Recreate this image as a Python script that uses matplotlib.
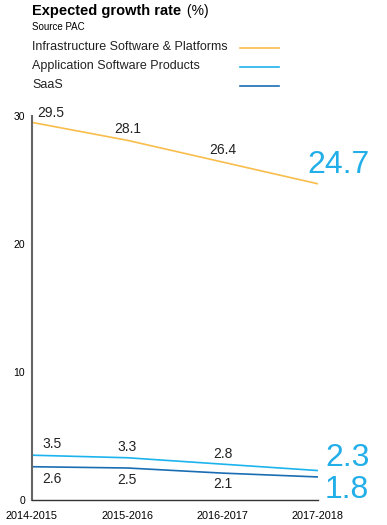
import matplotlib
matplotlib.use("Agg")
import matplotlib.pyplot as plt
from matplotlib.lines import Line2D

plt.rcParams['font.family'] = ['Liberation Sans', 'DejaVu Sans']

# data
periods = ['2014-2015', '2015-2016', '2016-2017', '2017-2018']
infra = [29.5, 28.1, 26.4, 24.7]
apps = [3.5, 3.3, 2.8, 2.3]
saas = [2.6, 2.5, 2.1, 1.8]
series_names = ['Infrastructure Software & Platforms', 'Application Software Products', 'SaaS']
yticks = [0, 10, 20, 30]

c_infra = '#f9bd4c'
c_apps = '#1db3ee'
c_saas = '#1b6db3'
c_big = '#22aee8'

fig = plt.figure(figsize=(3.87, 5.25), dpi=100)
ax = fig.add_axes([32/387, 25/525, 286/387, 384/525])

x = list(range(len(periods)))
ax.plot(x, infra, color=c_infra, lw=1.2)
ax.plot(x, apps, color=c_apps, lw=1.2)
ax.plot(x, saas, color=c_saas, lw=1.2)

ax.set_xlim(0, 3)
ax.set_ylim(0, 30)
ax.set_xticks(x)
ax.set_xticklabels(periods, fontsize=7.8)
ax.set_yticks(yticks)
ax.set_yticklabels([str(v) for v in yticks], fontsize=7.5)
ax.tick_params(length=0, pad=5)
ax.tick_params(axis='x', pad=8)
for s in ['top', 'right']:
    ax.spines[s].set_visible(False)
ax.spines['left'].set_color('#666666')
ax.spines['left'].set_linewidth(1.5)
ax.spines['bottom'].set_color('#333333')
ax.spines['bottom'].set_linewidth(1.0)

# value labels (px offsets converted to points)
px = 0.72
def lab(i, v, dx, dy):
    ax.annotate(str(v), (i, v), xytext=(dx*px, dy*px), textcoords='offset points',
                ha='center', va='center', fontsize=10, color='#222222',
                annotation_clip=False)

lab(0, infra[0], 19, 9)
lab(1, infra[1], 0, 11)
lab(2, infra[2], 0, 12)
lab(0, apps[0], 20, 11)
lab(1, apps[1], 0, 11)
lab(2, apps[2], 0, 10)
lab(0, saas[0], 20, -12)
lab(1, saas[1], 0, -12)
lab(2, saas[2], 0, -11)

# big end values
def big(v, dx, dy):
    ax.annotate(str(v), (3, v), xytext=(dx*px, dy*px), textcoords='offset points',
                ha='left', va='center', fontsize=23, color=c_big,
                annotation_clip=False)

big(infra[3], -11, 19)
big(apps[3], 7, 13)
big(saas[3], 7, -13)

# title
t = fig.text(32/387, 1-11/525, 'Expected growth rate', fontsize=10.5, fontweight='bold',
             va='center', ha='left')
ax.annotate(' (%)', xy=(1, 0.5), xycoords=t, xytext=(1, 0), textcoords='offset points',
            fontsize=10, va='center', ha='left')
fig.text(32/387, 1-27/525, 'Source PAC', fontsize=7, va='center', ha='left')

# legend
for name, col, yy in zip(series_names, [c_infra, c_apps, c_saas], [47, 66, 85]):
    fig.text(32/387, 1-yy/525, name, fontsize=9, va='center', ha='left', color='#222222')
    fig.add_artist(Line2D([240/387, 279/387], [1-(yy+1)/525]*2, color=col, lw=1.2))

fig.savefig('out.png', dpi=100)
